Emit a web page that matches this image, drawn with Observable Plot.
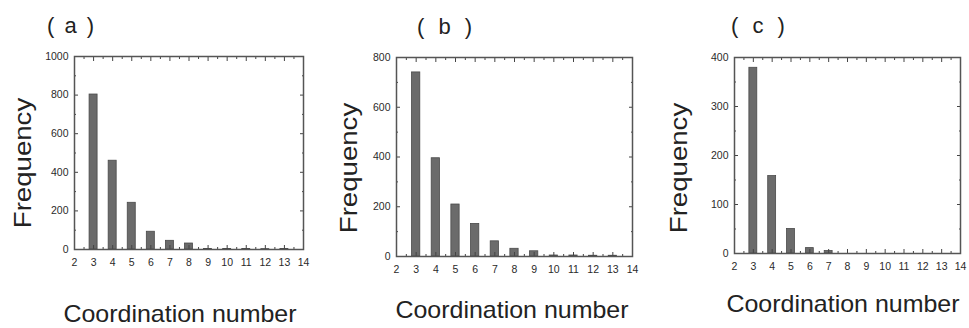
<!DOCTYPE html>
<html>
<head>
<meta charset="utf-8">
<script src="https://cdn.jsdelivr.net/npm/d3@7"></script>
<script src="https://cdn.jsdelivr.net/npm/@observablehq/plot@0.6"></script>
<style>
  html, body { margin: 0; padding: 0; background: #fff; }
  #fig { position: relative; width: 969px; height: 328px; overflow: hidden; font-family: "Liberation Sans", Arial, sans-serif; color: #222; }
  .panel { position: absolute; top: 0; }
  .panel svg { overflow: visible; }
  .title { position: absolute; font-family: "Liberation Sans", Arial, sans-serif; font-size: 22px; white-space: pre; line-height: 1; }
  .ylab { position: absolute; font-size: 24px; white-space: nowrap; line-height: 1; transform-origin: center center; }
  .xlab { position: absolute; font-size: 24px; white-space: nowrap; line-height: 1; transform: translateX(-50%) scaleX(1.04); }
</style>
</head>
<body>
<div id="fig"></div>
<script>
// ---- data ----
const coordination = [3, 4, 5, 6, 7, 8, 9, 10, 11, 12, 13];
const freqA = [803, 460, 242, 92, 45, 31, 3, 3, 3, 2, 3];
const freqB = [740, 395, 209, 131, 61, 31, 21, 4, 4, 3, 3];
const freqC = [379, 158, 50, 11, 5, 0, 0, 0, 0, 0, 0];
const xTicks = [2, 3, 4, 5, 6, 7, 8, 9, 10, 11, 12, 13, 14];
const yTicksA = [0, 200, 400, 600, 800, 1000];
const yTicksB = [0, 200, 400, 600, 800];
const yTicksC = [0, 100, 200, 300, 400];
const panelNames = ["( a )", "( b )", "( c )"];
const yLabel = "Frequency";
const xLabel = "Coordination number";

const fig = document.getElementById("fig");

function panel(cfg) {
  const data = coordination.map((n, i) => ({n, f: cfg.values[i]}));
  const yMax = cfg.yTicks[cfg.yTicks.length - 1];
  const yStep = cfg.yTicks[1] - cfg.yTicks[0];
  const yMinor = d3.range(yStep / 2, yMax, yStep / 2).filter(v => !cfg.yTicks.includes(v));
  const xMinor = d3.range(2.5, 14, 1);
  const tickCol = "#444";
  const chart = Plot.plot({
    width: cfg.width,
    height: 328,
    marginLeft: cfg.ml, marginRight: cfg.mr, marginTop: cfg.mt, marginBottom: cfg.mb,
    style: {fontFamily: "'Liberation Sans', Arial, sans-serif", fontSize: "10.5px", color: "#333", background: "transparent", overflow: "visible"},
    x: {domain: [2, 14], label: null},
    y: {domain: [0, yMax], label: null},
    marks: [
      Plot.rectY(data, {x1: d => d.n - 0.21, x2: d => d.n + 0.21, y1: 0, y2: "f", fill: "#6b6b6b", stroke: "#4a4a4a", strokeWidth: 0.8}),
      // tick labels
      Plot.axisX({ticks: xTicks, tickSize: 0, tickPadding: 9, tickFormat: d => String(d), label: null, fill: "#2a2a2a"}),
      Plot.axisY({ticks: cfg.yTicks, tickSize: 0, tickPadding: 6, tickFormat: d => String(d), label: null, fill: "#2a2a2a"}),
      // inward ticks
      Plot.axisX({anchor: "bottom", ticks: xTicks, tickSize: -4, fill: "none", stroke: tickCol, label: null}),
      Plot.axisX({anchor: "top", ticks: xTicks, tickSize: -4, fill: "none", stroke: tickCol, label: null}),
      Plot.axisX({anchor: "bottom", ticks: xMinor, tickSize: -2, fill: "none", stroke: tickCol, label: null}),
      Plot.axisX({anchor: "top", ticks: xMinor, tickSize: -2, fill: "none", stroke: tickCol, label: null}),
      Plot.axisY({anchor: "left", ticks: cfg.yTicks, tickSize: -4, fill: "none", stroke: tickCol, label: null}),
      Plot.axisY({anchor: "right", ticks: cfg.yTicks, tickSize: -4, fill: "none", stroke: tickCol, label: null}),
      Plot.axisY({anchor: "left", ticks: yMinor, tickSize: -2, fill: "none", stroke: tickCol, label: null}),
      Plot.axisY({anchor: "right", ticks: yMinor, tickSize: -2, fill: "none", stroke: tickCol, label: null}),
      Plot.frame({stroke: "#555", strokeWidth: 1.5})
    ]
  });
  const wrap = document.createElement("div");
  wrap.className = "panel";
  wrap.style.left = cfg.left + "px";
  wrap.appendChild(chart);
  fig.appendChild(wrap);

  const t = document.createElement("div");
  t.className = "title";
  t.textContent = cfg.name;
  t.style.left = cfg.tx + "px";
  t.style.top = cfg.ty + "px";
  t.style.wordSpacing = cfg.ws + "px";
  fig.appendChild(t);

  const yl = document.createElement("div");
  yl.className = "ylab";
  yl.textContent = yLabel;
  fig.appendChild(yl);
  const w = yl.offsetWidth, h = yl.offsetHeight;
  yl.style.left = (cfg.ylx - w / 2) + "px";
  yl.style.top = (cfg.yly - h / 2) + "px";
  yl.style.transform = "rotate(-90deg) scaleX(1.15)";

  const xl = document.createElement("div");
  xl.className = "xlab";
  xl.textContent = xLabel;
  xl.style.left = cfg.xlx + "px";
  xl.style.top = cfg.xly + "px";
  fig.appendChild(xl);
}

panel({values: freqA, yTicks: yTicksA, name: panelNames[0], left: 0, width: 320, ml: 74, mr: 17, mt: 56, mb: 79,
       tx: 47, ty: 15, ws: 4, ylx: 22, yly: 163, xlx: 180, xly: 302});
panel({values: freqB, yTicks: yTicksB, name: panelNames[1], left: 320, width: 322, ml: 76, mr: 10, mt: 57, mb: 72,
       tx: 417, ty: 16, ws: 8, ylx: 348, yly: 168, xlx: 512, xly: 298});
panel({values: freqC, yTicks: yTicksC, name: panelNames[2], left: 642, width: 327, ml: 92, mr: 9, mt: 57, mb: 75,
       tx: 731, ty: 15, ws: 8, ylx: 678, yly: 168, xlx: 843, xly: 292});
</script>
</body>
</html>
